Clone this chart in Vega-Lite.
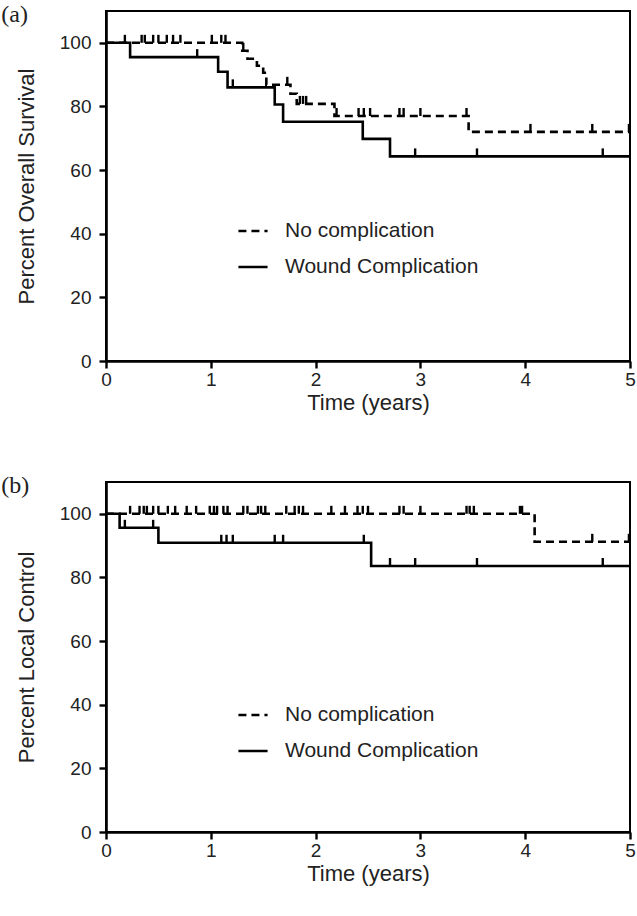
{
  "$schema": "https://vega.github.io/schema/vega-lite/v6.json",
  "padding": {"left": 0, "top": 2, "right": 7, "bottom": 5},
  "background": "white",
  "spacing": 59,
  "datasets": {
    "curves": [
      {"panel": "a", "group": "No complication", "t": 0, "v": 100},
      {"panel": "a", "group": "No complication", "t": 1.30, "v": 97.5},
      {"panel": "a", "group": "No complication", "t": 1.35, "v": 95},
      {"panel": "a", "group": "No complication", "t": 1.44, "v": 92.8},
      {"panel": "a", "group": "No complication", "t": 1.50, "v": 90.6},
      {"panel": "a", "group": "No complication", "t": 1.53, "v": 86.8},
      {"panel": "a", "group": "No complication", "t": 1.76, "v": 84},
      {"panel": "a", "group": "No complication", "t": 1.82, "v": 80.8},
      {"panel": "a", "group": "No complication", "t": 2.18, "v": 77},
      {"panel": "a", "group": "No complication", "t": 3.46, "v": 72},
      {"panel": "a", "group": "No complication", "t": 5, "v": 72},
      {"panel": "a", "group": "Wound Complication", "t": 0, "v": 100},
      {"panel": "a", "group": "Wound Complication", "t": 0.23, "v": 95.5},
      {"panel": "a", "group": "Wound Complication", "t": 1.07, "v": 90.9},
      {"panel": "a", "group": "Wound Complication", "t": 1.16, "v": 86},
      {"panel": "a", "group": "Wound Complication", "t": 1.61, "v": 80.6},
      {"panel": "a", "group": "Wound Complication", "t": 1.69, "v": 75.2},
      {"panel": "a", "group": "Wound Complication", "t": 2.45, "v": 69.8},
      {"panel": "a", "group": "Wound Complication", "t": 2.71, "v": 64.3},
      {"panel": "a", "group": "Wound Complication", "t": 5, "v": 64.3},
      {"panel": "b", "group": "No complication", "t": 0, "v": 100},
      {"panel": "b", "group": "No complication", "t": 4.09, "v": 91.2},
      {"panel": "b", "group": "No complication", "t": 5, "v": 91.2},
      {"panel": "b", "group": "Wound Complication", "t": 0, "v": 100},
      {"panel": "b", "group": "Wound Complication", "t": 0.13, "v": 95.6},
      {"panel": "b", "group": "Wound Complication", "t": 0.50, "v": 90.9},
      {"panel": "b", "group": "Wound Complication", "t": 2.53, "v": 83.6},
      {"panel": "b", "group": "Wound Complication", "t": 5, "v": 83.6}
    ],
    "censors": [
      {"panel": "a", "group": "No complication", "t": 0.18, "v": 100},
      {"panel": "a", "group": "No complication", "t": 0.34, "v": 100},
      {"panel": "a", "group": "No complication", "t": 0.37, "v": 100},
      {"panel": "a", "group": "No complication", "t": 0.45, "v": 100},
      {"panel": "a", "group": "No complication", "t": 0.50, "v": 100},
      {"panel": "a", "group": "No complication", "t": 0.58, "v": 100},
      {"panel": "a", "group": "No complication", "t": 0.64, "v": 100},
      {"panel": "a", "group": "No complication", "t": 0.71, "v": 100},
      {"panel": "a", "group": "No complication", "t": 1.01, "v": 100},
      {"panel": "a", "group": "No complication", "t": 1.10, "v": 100},
      {"panel": "a", "group": "No complication", "t": 1.14, "v": 100},
      {"panel": "a", "group": "No complication", "t": 1.31, "v": 97.5},
      {"panel": "a", "group": "No complication", "t": 1.73, "v": 86.8},
      {"panel": "a", "group": "No complication", "t": 1.85, "v": 80.8},
      {"panel": "a", "group": "No complication", "t": 1.88, "v": 80.8},
      {"panel": "a", "group": "No complication", "t": 1.91, "v": 80.8},
      {"panel": "a", "group": "No complication", "t": 2.20, "v": 77},
      {"panel": "a", "group": "No complication", "t": 2.41, "v": 77},
      {"panel": "a", "group": "No complication", "t": 2.46, "v": 77},
      {"panel": "a", "group": "No complication", "t": 2.52, "v": 77},
      {"panel": "a", "group": "No complication", "t": 2.80, "v": 77},
      {"panel": "a", "group": "No complication", "t": 2.84, "v": 77},
      {"panel": "a", "group": "No complication", "t": 3.00, "v": 77},
      {"panel": "a", "group": "No complication", "t": 3.44, "v": 77},
      {"panel": "a", "group": "No complication", "t": 4.05, "v": 72},
      {"panel": "a", "group": "No complication", "t": 4.64, "v": 72},
      {"panel": "a", "group": "No complication", "t": 4.99, "v": 72},
      {"panel": "a", "group": "Wound Complication", "t": 0.87, "v": 95.5},
      {"panel": "a", "group": "Wound Complication", "t": 1.21, "v": 86},
      {"panel": "a", "group": "Wound Complication", "t": 2.95, "v": 64.3},
      {"panel": "a", "group": "Wound Complication", "t": 3.54, "v": 64.3},
      {"panel": "a", "group": "Wound Complication", "t": 4.74, "v": 64.3},
      {"panel": "b", "group": "No complication", "t": 0.23, "v": 100},
      {"panel": "b", "group": "No complication", "t": 0.32, "v": 100},
      {"panel": "b", "group": "No complication", "t": 0.36, "v": 100},
      {"panel": "b", "group": "No complication", "t": 0.39, "v": 100},
      {"panel": "b", "group": "No complication", "t": 0.45, "v": 100},
      {"panel": "b", "group": "No complication", "t": 0.50, "v": 100},
      {"panel": "b", "group": "No complication", "t": 0.59, "v": 100},
      {"panel": "b", "group": "No complication", "t": 0.66, "v": 100},
      {"panel": "b", "group": "No complication", "t": 0.77, "v": 100},
      {"panel": "b", "group": "No complication", "t": 0.86, "v": 100},
      {"panel": "b", "group": "No complication", "t": 0.99, "v": 100},
      {"panel": "b", "group": "No complication", "t": 1.03, "v": 100},
      {"panel": "b", "group": "No complication", "t": 1.06, "v": 100},
      {"panel": "b", "group": "No complication", "t": 1.12, "v": 100},
      {"panel": "b", "group": "No complication", "t": 1.16, "v": 100},
      {"panel": "b", "group": "No complication", "t": 1.31, "v": 100},
      {"panel": "b", "group": "No complication", "t": 1.35, "v": 100},
      {"panel": "b", "group": "No complication", "t": 1.45, "v": 100},
      {"panel": "b", "group": "No complication", "t": 1.48, "v": 100},
      {"panel": "b", "group": "No complication", "t": 1.52, "v": 100},
      {"panel": "b", "group": "No complication", "t": 1.72, "v": 100},
      {"panel": "b", "group": "No complication", "t": 1.80, "v": 100},
      {"panel": "b", "group": "No complication", "t": 1.84, "v": 100},
      {"panel": "b", "group": "No complication", "t": 1.88, "v": 100},
      {"panel": "b", "group": "No complication", "t": 2.15, "v": 100},
      {"panel": "b", "group": "No complication", "t": 2.28, "v": 100},
      {"panel": "b", "group": "No complication", "t": 2.40, "v": 100},
      {"panel": "b", "group": "No complication", "t": 2.45, "v": 100},
      {"panel": "b", "group": "No complication", "t": 2.50, "v": 100},
      {"panel": "b", "group": "No complication", "t": 2.80, "v": 100},
      {"panel": "b", "group": "No complication", "t": 2.84, "v": 100},
      {"panel": "b", "group": "No complication", "t": 3.00, "v": 100},
      {"panel": "b", "group": "No complication", "t": 3.44, "v": 100},
      {"panel": "b", "group": "No complication", "t": 3.47, "v": 100},
      {"panel": "b", "group": "No complication", "t": 3.51, "v": 100},
      {"panel": "b", "group": "No complication", "t": 3.95, "v": 100},
      {"panel": "b", "group": "No complication", "t": 3.97, "v": 100},
      {"panel": "b", "group": "No complication", "t": 4.64, "v": 91.2},
      {"panel": "b", "group": "No complication", "t": 4.99, "v": 91.2},
      {"panel": "b", "group": "Wound Complication", "t": 0.18, "v": 95.6},
      {"panel": "b", "group": "Wound Complication", "t": 0.45, "v": 95.6},
      {"panel": "b", "group": "Wound Complication", "t": 1.10, "v": 90.9},
      {"panel": "b", "group": "Wound Complication", "t": 1.15, "v": 90.9},
      {"panel": "b", "group": "Wound Complication", "t": 1.21, "v": 90.9},
      {"panel": "b", "group": "Wound Complication", "t": 1.61, "v": 90.9},
      {"panel": "b", "group": "Wound Complication", "t": 1.69, "v": 90.9},
      {"panel": "b", "group": "Wound Complication", "t": 2.46, "v": 90.9},
      {"panel": "b", "group": "Wound Complication", "t": 2.71, "v": 83.6},
      {"panel": "b", "group": "Wound Complication", "t": 2.95, "v": 83.6},
      {"panel": "b", "group": "Wound Complication", "t": 3.54, "v": 83.6},
      {"panel": "b", "group": "Wound Complication", "t": 4.74, "v": 83.6}
    ]
  },
  "resolve": {"scale": {"strokeDash": "independent"}, "legend": {"strokeDash": "independent"}},
  "vconcat": [
    {
      "width": 524,
      "height": 350,
      "title": {"text": "(a)", "anchor": "start", "frame": "bounds", "offset": -16, "dx": -14, "font": "Liberation Serif", "fontSize": 24, "fontWeight": "normal", "color": "#222"},
      "layer": [
        {
          "data": {"name": "curves"},
          "transform": [{"filter": "datum.panel === 'a'"}],
          "mark": {"type": "line", "interpolate": "step-after", "color": "black", "strokeWidth": 2.6, "clip": true},
          "encoding": {
            "x": {"field": "t", "type": "quantitative", "scale": {"domain": [0, 5]}, "axis": {"title": "Time (years)", "values": [0, 1, 2, 3, 4, 5], "format": "d"}},
            "y": {"field": "v", "type": "quantitative", "scale": {"domain": [0, 110]}, "axis": {"title": "Percent Overall Survival", "values": [0, 20, 40, 60, 80, 100]}},
            "strokeDash": {"field": "group", "type": "nominal", "scale": {"domain": ["No complication", "Wound Complication"], "range": [[8, 5], [1, 0]]},
              "legend": {"title": null, "orient": "none", "legendX": 131, "legendY": 204}}
          }
        },
        {
          "data": {"name": "censors"},
          "transform": [{"filter": "datum.panel === 'a'"}],
          "mark": {"type": "tick", "orient": "vertical", "color": "black", "opacity": 1, "size": 8, "thickness": 2.4, "yOffset": -4},
          "encoding": {
            "x": {"field": "t", "type": "quantitative"},
            "y": {"field": "v", "type": "quantitative"},
            "detail": {"field": "group"}
          }
        }
      ]
    },
    {
      "width": 524,
      "height": 350,
      "title": {"text": "(b)", "anchor": "start", "frame": "bounds", "offset": -16, "dx": -14, "font": "Liberation Serif", "fontSize": 24, "fontWeight": "normal", "color": "#222"},
      "layer": [
        {
          "data": {"name": "curves"},
          "transform": [{"filter": "datum.panel === 'b'"}],
          "mark": {"type": "line", "interpolate": "step-after", "color": "black", "strokeWidth": 2.6, "clip": true},
          "encoding": {
            "x": {"field": "t", "type": "quantitative", "scale": {"domain": [0, 5]}, "axis": {"title": "Time (years)", "values": [0, 1, 2, 3, 4, 5], "format": "d"}},
            "y": {"field": "v", "type": "quantitative", "scale": {"domain": [0, 110]}, "axis": {"title": "Percent Local Control", "values": [0, 20, 40, 60, 80, 100]}},
            "strokeDash": {"field": "group", "type": "nominal", "scale": {"domain": ["No complication", "Wound Complication"], "range": [[8, 5], [1, 0]]},
              "legend": {"title": null, "orient": "none", "legendX": 131, "legendY": 217}}
          }
        },
        {
          "data": {"name": "censors"},
          "transform": [{"filter": "datum.panel === 'b'"}],
          "mark": {"type": "tick", "orient": "vertical", "color": "black", "opacity": 1, "size": 8, "thickness": 2.4, "yOffset": -4},
          "encoding": {
            "x": {"field": "t", "type": "quantitative"},
            "y": {"field": "v", "type": "quantitative"},
            "detail": {"field": "group"}
          }
        }
      ]
    }
  ],
  "config": {
    "view": {"stroke": "black", "strokeWidth": 2},
    "font": "Liberation Sans",
    "axis": {
      "grid": false,
      "domainColor": "black",
      "domainWidth": 2.6,
      "tickColor": "black",
      "tickWidth": 2.4,
      "tickSize": 7,
      "labelFont": "Liberation Sans",
      "labelFontSize": 19,
      "labelColor": "#222",
      "titleFont": "Liberation Sans",
      "titleFontSize": 22,
      "titleFontWeight": "normal",
      "titleColor": "#222"
    },
    "axisX": {"labelPadding": 2, "titlePadding": 3, "labelFlush": false},
    "axisY": {"labelPadding": 8, "titlePadding": 21},
    "legend": {
      "labelFont": "Liberation Sans",
      "labelFontSize": 21,
      "labelColor": "#222",
      "labelLimit": 400,
      "symbolType": "stroke",
      "symbolSize": 850,
      "symbolStrokeWidth": 2.6,
      "symbolStrokeColor": "black",
      "labelOffset": 16,
      "rowPadding": 10,
      "padding": 0
    }
  }
}
